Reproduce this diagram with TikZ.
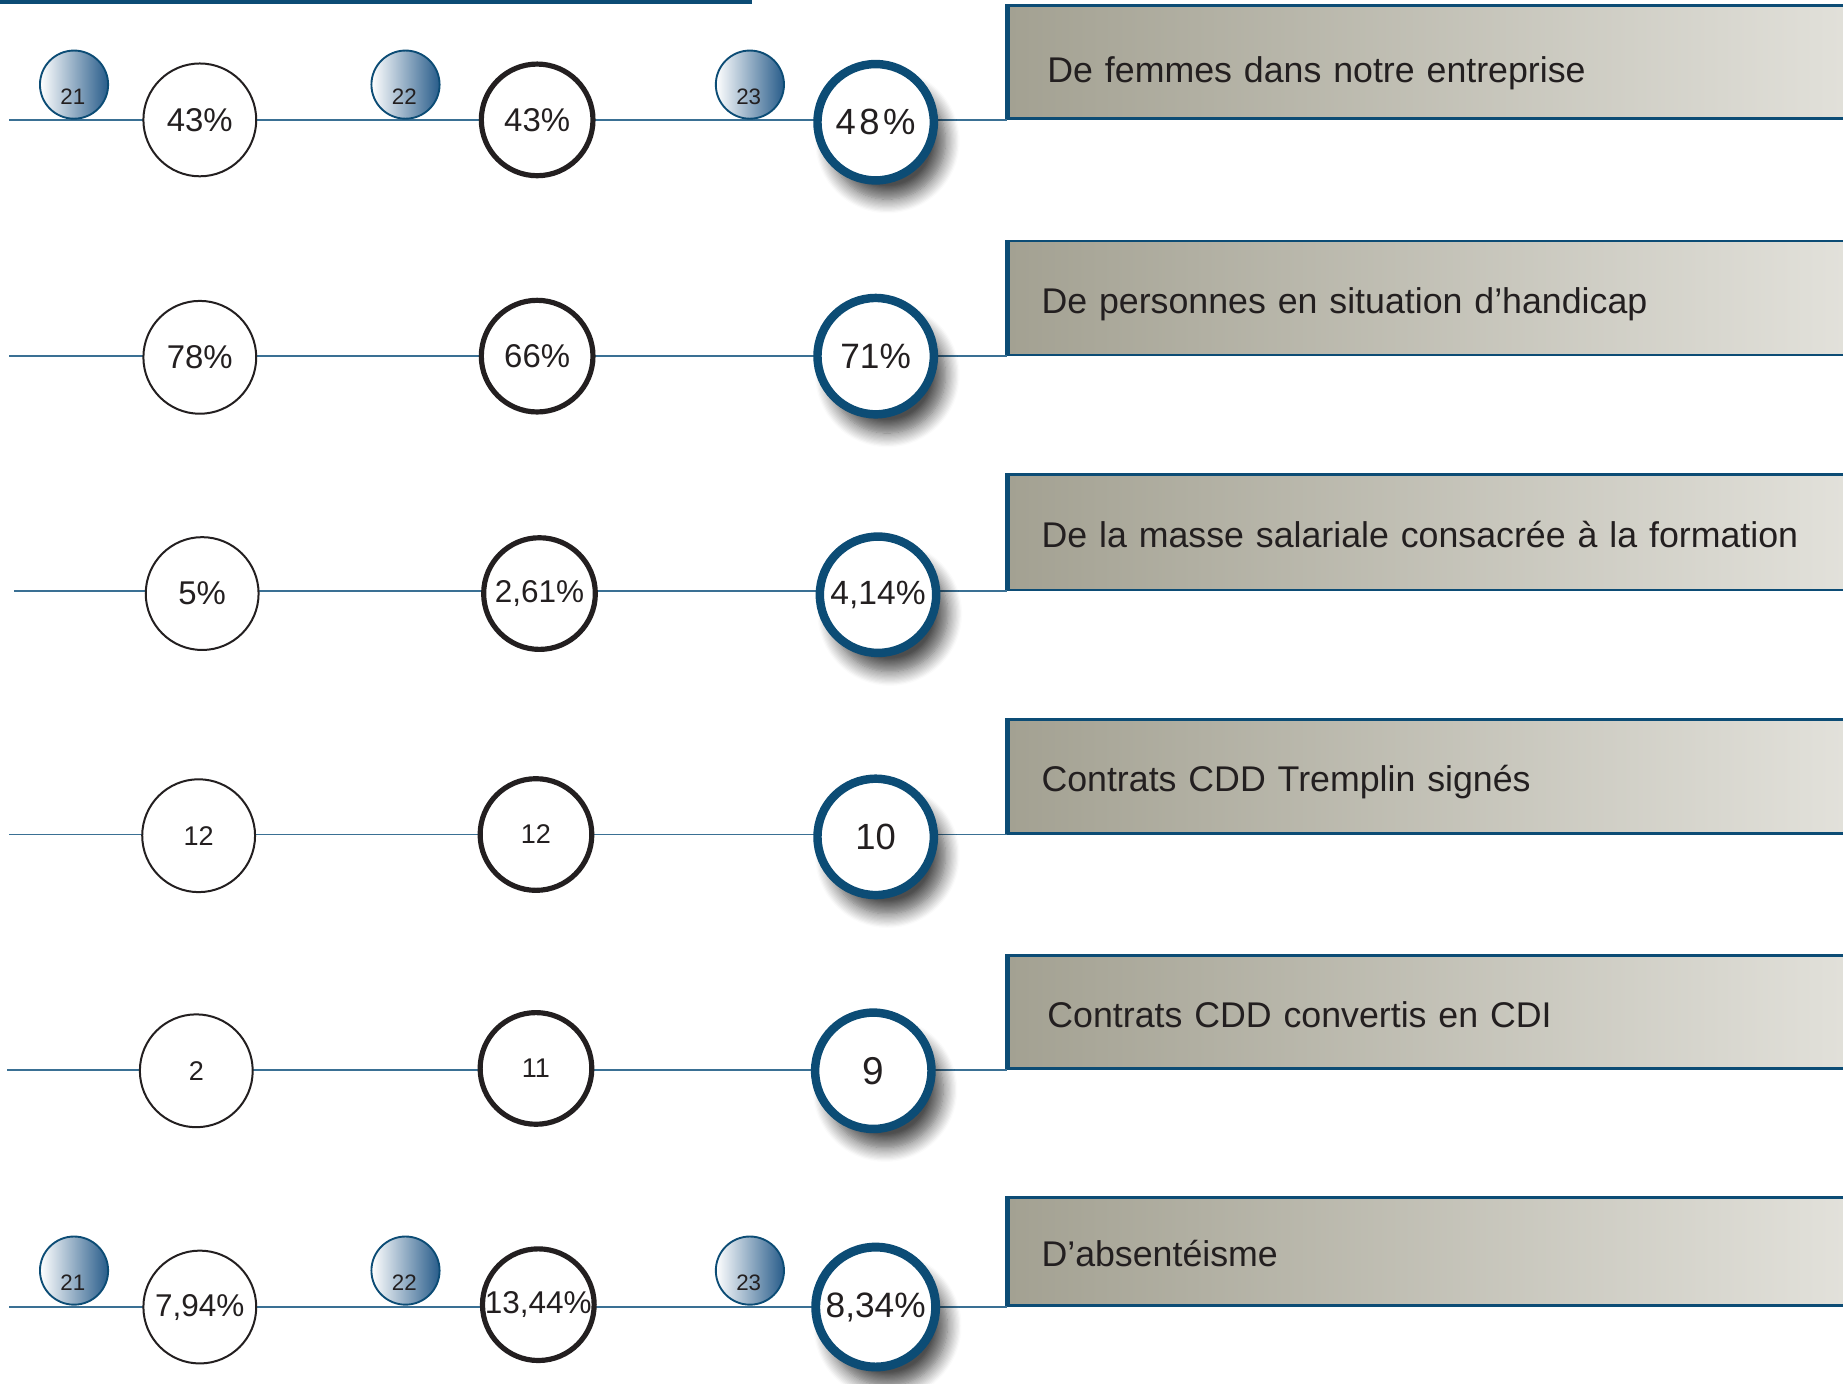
\documentclass[tikz,border=0pt]{standalone}
\usepackage{fontspec}
\setmainfont{Liberation Sans}
\usetikzlibrary{shadows.blur}
\definecolor{dblue}{RGB}{12,76,117}
\definecolor{lblue}{RGB}{58,112,148}
\definecolor{yblue}{RGB}{40,92,138}
\definecolor{gleft}{RGB}{163,161,146}
\definecolor{gright}{RGB}{230,229,223}
\definecolor{ink}{RGB}{35,31,32}
\begin{document}
\begin{tikzpicture}[x=0.5pt,y=-0.5pt,
  ca/.style={circle, draw=ink, line width=0.85pt, fill=white, minimum size=48pt, inner sep=0pt, text=ink, font=\fontsize{14}{16}\selectfont},
  cb/.style={circle, draw=ink, line width=2.2pt, fill=white, minimum size=47.5pt, inner sep=0pt, text=ink, font=\fontsize{14}{16}\selectfont},
  cc/.style={circle, draw=dblue, line width=3.6pt, fill=white, minimum size=49.5pt, inner sep=0pt, text=ink, font=\fontsize{15}{17}\selectfont,
     blur shadow={shadow xshift=5pt, shadow yshift=-8pt, shadow blur radius=6pt, shadow blur steps=12, shadow opacity=70}},
  yr/.style={circle, draw=dblue, line width=0.8pt, left color=white, right color=yblue, minimum size=29pt, inner sep=0pt},
  yrtxt/.style={inner sep=0pt, text=ink, font=\fontsize{9.5}{11}\selectfont},
  lbl/.style={draw=dblue, line width=1.1pt, left color=gleft, right color=gright, anchor=south west, minimum height=48.5pt, text width=350pt, inner xsep=14pt, align=left, text=ink, font=\fontsize{15.2}{18}\selectfont, text height=16pt, text depth=3pt},
  conn/.style={draw=lblue, line width=0.8pt},
  small/.style={font=\fontsize{11.5}{13}\selectfont},
  mid/.style={font=\fontsize{13.4}{15}\selectfont}
]
\useasboundingbox (0,0) rectangle (1568,1177);
\clip (0,0) rectangle (1568,1177);

% top bar
\fill[dblue] (0,0) rectangle (640,3.5);

% label boxes
\node[lbl, inner xsep=16.5pt, minimum height=48pt, text height=20pt] (box1) at (857,102) {De femmes dans notre entreprise};
\node[lbl] (box2) at (857,303) {De personnes en situation d’handicap};
\node[lbl, minimum height=49pt] (box3) at (857,503) {De la masse salariale consacrée à la formation};
\node[lbl] (box4) at (857,710) {Contrats CDD Tremplin signés};
\node[lbl, inner xsep=16.5pt, minimum height=48pt] (box5) at (857,910) {Contrats CDD convertis en CDI};
\node[lbl, minimum height=46pt] (box6) at (857,1112) {D’absentéisme};
\foreach \i in {1,...,6}{
  \draw[dblue, line width=1.6pt] (box\i.south west) -- (box\i.north west);
}

% line starts
\coordinate (s1) at (8,102);
\coordinate (s2) at (8,303);
\coordinate (s3) at (12,503);
\coordinate (s4) at (8,710);
\coordinate (s5) at (6,910);
\coordinate (s6) at (8,1112);
\foreach \i in {1,...,6}{
  \draw[conn] (s\i) -- (box\i.south west);
}

% row 1
\node[yr] (y11) at (63,72) {};
\node[yrtxt] (y11t) at (62,82) {21};
\node[yr] (y12) at (345,72) {};
\node[yrtxt] (y12t) at (344,82) {22};
\node[yr] (y13) at (638,72) {};
\node[yrtxt] (y13t) at (637,82) {23};
\node[ca] (a1) at (170,102) {43\%};
\node[cb] (b1) at (457,102) {43\%};
\node[cc, font=\fontsize{15.5}{17}\selectfont] (c1) at (745,104) {4\kern1.5pt8\kern1.5pt\%};

% row 2
\node[ca] (a2) at (170,304) {78\%};
\node[cb] (b2) at (457,303) {66\%};
\node[cc] (c2) at (745,303) {71\%};

% row 3
\node[ca] (a3) at (172,505) {5\%};
\node[cb, mid] (b3) at (459,505) {2,61\%};
\node[cc, font=\fontsize{14.3}{16}\selectfont] (c3) at (747,506) {4,14\%};

% row 4
\node[ca, small] (a4) at (169,711) {12};
\node[cb, small] (b4) at (456,710) {12};
\node[cc, font=\fontsize{15.5}{17}\selectfont] (c4) at (745,712) {10};

% row 5
\node[ca, small] (a5) at (167,911) {2};
\node[cb, small] (b5) at (456,909) {11};
\node[cc, font=\fontsize{16.5}{18}\selectfont] (c5) at (743,911) {9};

% row 6
\node[yr] (y61) at (63,1081) {};
\node[yrtxt] (y61t) at (62,1091) {21};
\node[yr] (y62) at (345,1081) {};
\node[yrtxt] (y62t) at (344,1091) {22};
\node[yr] (y63) at (638,1081) {};
\node[yrtxt] (y63t) at (637,1091) {23};
\node[ca, mid] (a6) at (170,1112) {7,94\%};
\node[cb, mid] (b6) at (458,1110) {13,44\%};
\node[cc, line width=3.8pt, minimum size=51pt] (c6) at (745,1112) {8,34\%};
\end{tikzpicture}
\end{document}
